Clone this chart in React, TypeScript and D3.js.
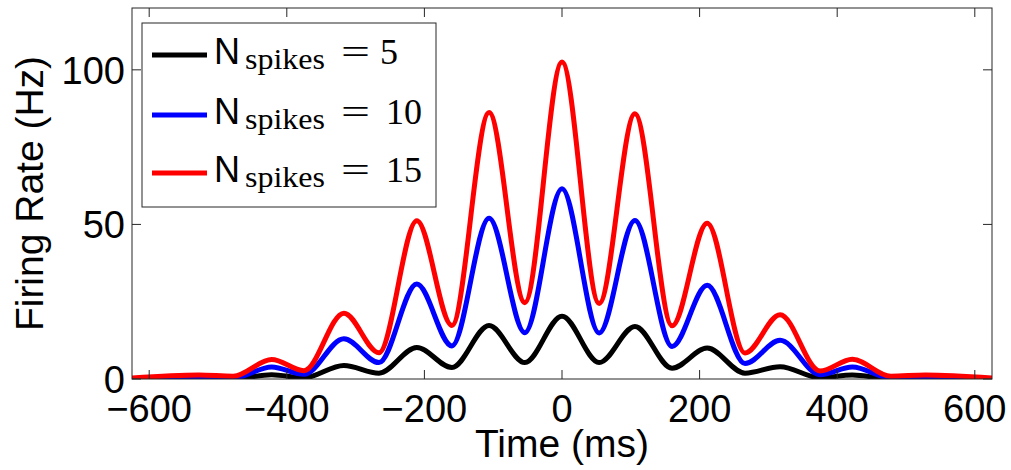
import React from "react";
import * as d3 from "d3";

const W = 1011;
const H = 470;

// Time (ms) sample points at extrema of the curves
const times = [-625, -528, -478, -422, -375, -317, -266, -211, -160, -106, -54, 0, 54, 106, 160, 211, 266, 317, 375, 422, 478, 528, 625];

// Firing rate (Hz)
const black5 = [0, 0.05, 0.05, 1.4, 0.4, 4.4, 1.9, 10.2, 3.7, 17.3, 5.3, 20.3, 5.3, 17.0, 3.5, 10.0, 1.9, 4.0, 0.4, 1.3, 0.05, 0.05, 0];
const blue10 = [0.1, 0.5, 0.3, 3.9, 1.5, 13.0, 5.3, 30.7, 10.7, 52.0, 15.0, 61.5, 14.9, 51.3, 10.5, 30.3, 5.0, 12.5, 1.4, 3.9, 0.3, 0.5, 0.1];
const red15 = [0.3, 1.3, 0.9, 6.3, 2.7, 21.3, 8.5, 51.2, 17.3, 86.2, 24.7, 102.5, 24.4, 85.8, 17.2, 50.4, 8.4, 20.8, 2.6, 6.4, 0.9, 1.3, 0.3];

const xTicks = [-600, -400, -200, 0, 200, 400, 600];
const yTicks = [0, 50, 100];

const seriesNames = ["5", "10", "15"];
const seriesColors = ["#000000", "#0000ff", "#ff0000"];
const seriesValues = [black5, blue10, red15];

const sans = "'Liberation Sans', Arial, Helvetica, sans-serif";
const serif = "'Liberation Serif', 'DejaVu Serif', serif";

export default function App() {
  const left = 132, right = 992, top = 8, bottom = 379;
  const x = d3.scaleLinear().domain([-625, 625]).range([left, right]);
  const y = d3.scaleLinear().domain([0, 120]).range([bottom, top]);
  const line = d3
    .line<number>()
    .x((_, i) => x(times[i]))
    .y((d) => y(d))
    .curve(d3.curveMonotoneX);

  const tickLen = 9;
  const axisColor = "#262626";
  const fmt = (v: number) => (v < 0 ? "\u2212" + Math.abs(v) : String(v));

  const legendRows = [55, 115, 173];

  return (
    <svg
      width={W}
      height={H}
      style={{ position: "absolute", left: 0, top: 0, display: "block", background: "#fff" }}
    >
      <defs>
        <clipPath id="plotclip">
          <rect x={left} y={top} width={right - left} height={bottom - top} />
        </clipPath>
      </defs>
      <rect x={0} y={0} width={W} height={H} fill="#fff" />

      {/* curves */}
      <g clipPath="url(#plotclip)">
        {seriesValues.map((vals, k) => (
          <path
            key={k}
            d={line(vals) || ""}
            fill="none"
            stroke={seriesColors[k]}
            strokeWidth={5}
            strokeLinejoin="round"
          />
        ))}
      </g>

      {/* axes box */}
      <rect x={left} y={top} width={right - left} height={bottom - top} fill="none" stroke={axisColor} strokeWidth={1} />

      {/* x ticks */}
      {xTicks.map((t) => (
        <g key={"x" + t}>
          <line x1={x(t)} x2={x(t)} y1={bottom} y2={bottom - tickLen} stroke={axisColor} strokeWidth={1} />
          <line x1={x(t)} x2={x(t)} y1={top} y2={top + tickLen} stroke={axisColor} strokeWidth={1} />
          <text x={x(t)} y={422} textAnchor="middle" fontFamily={sans} fontSize={38} fill="#000">
            {fmt(t)}
          </text>
        </g>
      ))}

      {/* y ticks */}
      {yTicks.map((t) => (
        <g key={"y" + t}>
          <line x1={left} x2={left + tickLen} y1={y(t)} y2={y(t)} stroke={axisColor} strokeWidth={1} />
          <line x1={right} x2={right - tickLen} y1={y(t)} y2={y(t)} stroke={axisColor} strokeWidth={1} />
          <text x={125} y={y(t)} dy="0.36em" textAnchor="end" fontFamily={sans} fontSize={38} fill="#000">
            {fmt(t)}
          </text>
        </g>
      ))}

      {/* axis labels */}
      <text x={(left + right) / 2} y={457} textAnchor="middle" fontFamily={sans} fontSize={39} fill="#000">
        Time (ms)
      </text>
      <text
        transform={`translate(43, ${(top + bottom) / 2}) rotate(-90)`}
        textAnchor="middle"
        fontFamily={sans}
        fontSize={39}
        fill="#000"
      >
        Firing Rate (Hz)
      </text>

      {/* legend */}
      <rect x={142} y={23} width={294} height={184} fill="#fff" stroke={axisColor} strokeWidth={1} />
      {seriesNames.map((n, k) => {
        const cy = legendRows[k];
        return (
          <g key={"lg" + k}>
            <line x1={152} x2={207} y1={cy} y2={cy} stroke={seriesColors[k]} strokeWidth={5} />
            <text x={214} y={cy + 9} fontFamily={sans} fontSize={36} fill="#000">
              N
            </text>
            <text x={245} y={cy + 14} fontFamily={serif} fontSize={30} fill="#000" textLength={80} lengthAdjust="spacingAndGlyphs">
              spikes
            </text>
            <text x={341} y={cy + 9} fontFamily={serif} fontSize={36} fill="#000" textLength={29} lengthAdjust="spacingAndGlyphs">
              =
            </text>
            <text x={n.length === 1 ? 380 : 386} y={cy + 9} fontFamily={serif} fontSize={36} fill="#000">
              {n}
            </text>
          </g>
        );
      })}
    </svg>
  );
}
